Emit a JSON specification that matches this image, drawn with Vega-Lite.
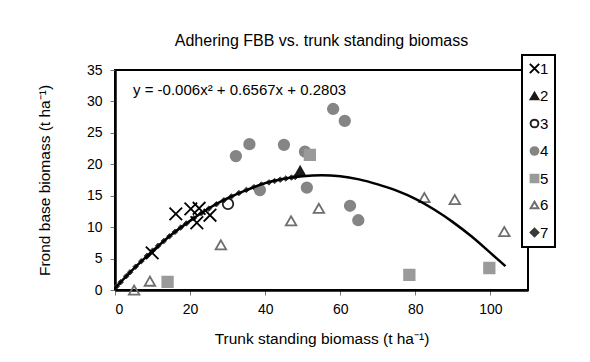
{
  "$schema": "https://vega.github.io/schema/vega-lite/v6.json",
  "autosize": "none",
  "width": 413,
  "height": 220,
  "padding": {"left": 115, "top": 70, "right": 62, "bottom": 72},
  "background": "white",
  "config": {
    "font": "Liberation Sans",
    "view": {"stroke": "black", "strokeWidth": 2},
    "axis": {"grid": false, "domainColor": "black", "domainWidth": 2.5, "tickColor": "#777", "tickSize": 5, "labelFontSize": 14, "labelColor": "black", "titleFontSize": 15.5, "titleFontWeight": "normal", "titleColor": "black"},
    "legend": {"strokeColor": "black", "strokeWidth": 2, "fillColor": "white", "padding": 6, "rowPadding": 10.5, "labelFontSize": 15, "labelColor": "black", "labelOffset": -2, "symbolOffset": -1, "symbolSize": 60, "symbolStrokeWidth": 2}
  },
  "title": {"text": "Adhering FBB vs. trunk standing biomass", "fontSize": 16, "fontWeight": "normal", "color": "black", "anchor": "middle", "frame": "group", "offset": 5},
  "datasets": {
    "pts": [
      {"x": 16.2, "y": 12.1, "series": "1"},
      {"x": 20.2, "y": 12.9, "series": "1"},
      {"x": 22.4, "y": 13.0, "series": "1"},
      {"x": 21.8, "y": 10.7, "series": "1"},
      {"x": 25.3, "y": 11.9, "series": "1"},
      {"x": 9.9, "y": 5.9, "series": "1"},
      {"x": 49.3, "y": 18.9, "series": "2"},
      {"x": 30.1, "y": 13.7, "series": "3"},
      {"x": 32.2, "y": 21.3, "series": "4"},
      {"x": 35.8, "y": 23.2, "series": "4"},
      {"x": 45.0, "y": 23.1, "series": "4"},
      {"x": 50.6, "y": 22.0, "series": "4"},
      {"x": 58.1, "y": 28.8, "series": "4"},
      {"x": 61.2, "y": 26.9, "series": "4"},
      {"x": 51.1, "y": 16.3, "series": "4"},
      {"x": 38.6, "y": 15.9, "series": "4"},
      {"x": 62.6, "y": 13.4, "series": "4"},
      {"x": 64.8, "y": 11.1, "series": "4"},
      {"x": 51.9, "y": 21.5, "series": "5"},
      {"x": 14.0, "y": 1.3, "series": "5"},
      {"x": 78.4, "y": 2.4, "series": "5"},
      {"x": 99.7, "y": 3.5, "series": "5"},
      {"x": 5.1, "y": 0.0, "series": "6"},
      {"x": 9.3, "y": 1.4, "series": "6"},
      {"x": 28.2, "y": 7.2, "series": "6"},
      {"x": 46.9, "y": 11.0, "series": "6"},
      {"x": 54.3, "y": 13.0, "series": "6"},
      {"x": 82.4, "y": 14.7, "series": "6"},
      {"x": 90.5, "y": 14.4, "series": "6"},
      {"x": 103.7, "y": 9.3, "series": "6"}
    ],
    "dia": [
      {"x": 0.5, "y": 0.61, "series": "7"},
      {"x": 1.5, "y": 1.25, "series": "7"},
      {"x": 3, "y": 2.2, "series": "7"},
      {"x": 4, "y": 2.81, "series": "7"},
      {"x": 5.5, "y": 3.71, "series": "7"},
      {"x": 7, "y": 4.58, "series": "7"},
      {"x": 8.5, "y": 5.43, "series": "7"},
      {"x": 10, "y": 6.25, "series": "7"},
      {"x": 11.5, "y": 7.04, "series": "7"},
      {"x": 13, "y": 7.8, "series": "7"},
      {"x": 14.5, "y": 8.54, "series": "7"},
      {"x": 16, "y": 9.25, "series": "7"},
      {"x": 17.5, "y": 9.93, "series": "7"},
      {"x": 19, "y": 10.59, "series": "7"},
      {"x": 21, "y": 11.42, "series": "7"},
      {"x": 23, "y": 12.2, "series": "7"},
      {"x": 25, "y": 12.94, "series": "7"},
      {"x": 27, "y": 13.64, "series": "7"},
      {"x": 29, "y": 14.28, "series": "7"},
      {"x": 31, "y": 14.88, "series": "7"},
      {"x": 33, "y": 15.42, "series": "7"},
      {"x": 35, "y": 15.92, "series": "7"},
      {"x": 37, "y": 16.36, "series": "7"},
      {"x": 39, "y": 16.77, "series": "7"},
      {"x": 41, "y": 17.12, "series": "7"},
      {"x": 42.5, "y": 17.35, "series": "7"},
      {"x": 44, "y": 17.55, "series": "7"},
      {"x": 45.5, "y": 17.74, "series": "7"},
      {"x": 47, "y": 17.89, "series": "7"},
      {"x": 48, "y": 17.98, "series": "7"}
    ],
    "curve": [
      {"x": 0, "y": 0.3}, {"x": 5, "y": 3.4}, {"x": 10, "y": 6.2}, {"x": 15, "y": 8.8},
      {"x": 20, "y": 11.0}, {"x": 25, "y": 13.0}, {"x": 30, "y": 14.6}, {"x": 35, "y": 15.9},
      {"x": 40, "y": 17.0}, {"x": 45, "y": 17.7}, {"x": 50, "y": 18.1}, {"x": 55, "y": 18.25},
      {"x": 60, "y": 18.1}, {"x": 65, "y": 17.6}, {"x": 70, "y": 16.8}, {"x": 75, "y": 15.8},
      {"x": 80, "y": 14.5}, {"x": 85, "y": 12.8}, {"x": 90, "y": 10.8}, {"x": 95, "y": 8.5},
      {"x": 100, "y": 5.9}, {"x": 104, "y": 3.8}
    ],
    "eq": [{"x": 4.8, "y": 31.8, "label": "y = -0.006x² + 0.6567x + 0.2803"}]
  },
  "encoding": {
    "x": {"field": "x", "type": "quantitative", "scale": {"domain": [0, 110], "nice": false},
      "axis": {"title": "Trunk standing biomass (t ha⁻¹)", "values": [0, 20, 40, 60, 80, 100], "labelPadding": 7, "titlePadding": 15}},
    "y": {"field": "y", "type": "quantitative", "scale": {"domain": [0, 35], "nice": false},
      "axis": {"title": "Frond base biomass (t ha⁻¹)", "values": [0, 5, 10, 15, 20, 25, 30, 35], "labelPadding": 8, "titlePadding": 34}}
  },
  "layer": [
    {
      "data": {"name": "dia"},
      "mark": {"type": "point", "strokeWidth": 1, "opacity": 1, "size": 30},
      "encoding": {
        "shape": {"field": "series", "type": "nominal",
          "scale": {"domain": ["1", "2", "3", "4", "5", "6", "7"], "range": ["M-1.2,-1.2L1.2,1.2M-1.2,1.2L1.2,-1.2", "triangle-up", "circle", "circle", "square", "triangle-up", "diamond"]},
          "legend": {"title": null, "orient": "none", "legendX": 407, "legendY": -15,
            "encode": {"symbols": {"update": {"size": {"value": 60}, "strokeWidth": {"value": 2}}}}}},
        "fill": {"field": "series", "type": "nominal",
          "scale": {"domain": ["1", "2", "3", "4", "5", "6", "7"], "range": ["transparent", "#1a1a1a", "transparent", "#858585", "#9a9a9a", "transparent", "#3a3a3a"]}},
        "stroke": {"field": "series", "type": "nominal",
          "scale": {"domain": ["1", "2", "3", "4", "5", "6", "7"], "range": ["#000000", "#1a1a1a", "#222222", "#858585", "#9a9a9a", "#6e6e6e", "#3a3a3a"]}}
      }
    },
    {
      "data": {"name": "pts"},
      "mark": {"type": "point", "strokeWidth": 1.8, "opacity": 1, "size": 110},
      "encoding": {
        "shape": {"field": "series", "type": "nominal"},
        "fill": {"field": "series", "type": "nominal"},
        "stroke": {"field": "series", "type": "nominal"}
      }
    },
    {
      "data": {"name": "curve"},
      "mark": {"type": "line", "color": "black", "strokeWidth": 2.5, "interpolate": "monotone"},
      "encoding": {}
    },
    {
      "data": {"name": "eq"},
      "mark": {"type": "text", "align": "left", "baseline": "middle", "fontSize": 15, "color": "black"},
      "encoding": {"text": {"field": "label"}}
    }
  ]
}
